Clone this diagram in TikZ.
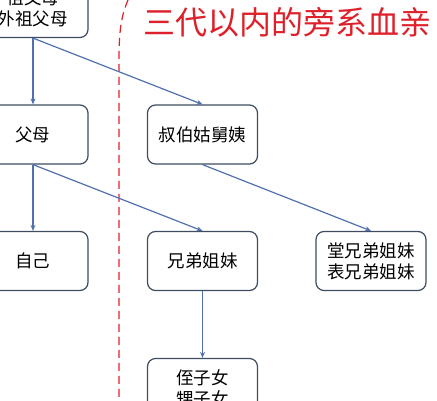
\documentclass[tikz,border=0pt]{standalone}
\usepackage{fontspec}
\setmainfont{Noto Sans CJK SC}
\usetikzlibrary{positioning, calc, arrows.meta, shapes}
\definecolor{boxline}{RGB}{62,76,96}
\definecolor{linkblue}{RGB}{80,112,176}
\definecolor{titlered}{RGB}{222,32,42}
\tikzset{kin/.style={draw=boxline, line width=1.2pt, rounded corners=8pt, minimum width=110pt, minimum height=59pt, align=center, font=\fontsize{17.5}{21}\selectfont, fill=white}}
\tikzset{link/.style={draw=linkblue, line width=1.2pt, -{Stealth[length=6pt, width=5pt]}}}
\tikzset{border/.style={draw=titlered, line width=1.2pt, dash pattern=on 8pt off 5pt}}

\begin{document}
\begin{tikzpicture}[x=1pt, y=-1pt]
      \useasboundingbox (0,0) rectangle (437,400);
      \draw[border] (128,0) .. controls (121,16) and (119,32) .. (119,60) -- (119,400);

      \node[kin] (gp) at (33,8) {祖父母\\外祖父母};
      \node[kin] (fm) at ($(gp)+(0,126.5)$) {父母};
      \node[kin] (zj) at ($(fm)+(0,126.5)$) {自己};
      \node[kin] (sb) at ($(fm)+(169.5,0)$) {叔伯姑舅姨};
      \node[kin] (xd) at ($(zj)+(169.5,0)$) {兄弟姐妹};
      \node[kin] (tb) at ($(xd)+(168.5,0)$) {堂兄弟姐妹\\表兄弟姐妹};
      \node[kin] (zn) at ($(xd)+(0,127)$) {侄子女\\甥子女};
      \node[text=titlered, font=\fontsize{32}{32}\selectfont, anchor=west] (title) at (140,22) {三代以内的旁系血亲};

      \draw (gp.south) edge[link] (fm.north);
      \draw (gp.south) edge[link] (sb.north);
      \draw (fm.south) edge[link] (zj.north);
      \draw (fm.south) edge[link] (xd.north);
      \draw (sb.south) edge[link] (tb.north);
      \draw (xd.south) edge[link] (zn.north);
    \end{tikzpicture}
\end{document}
